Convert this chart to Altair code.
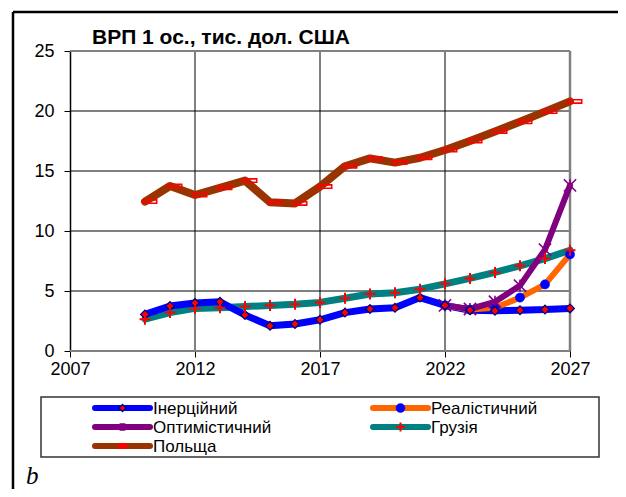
import altair as alt
import pandas as pd

# ---------------- data ----------------
years = list(range(2010, 2028))
inertial = [3.05, 3.75, 4.0, 4.1, 3.0, 2.1, 2.25, 2.6, 3.2, 3.5, 3.6, 4.45, 3.8, 3.4, 3.35, 3.4, 3.45, 3.55]
georgia = [2.65, 3.2, 3.55, 3.6, 3.7, 3.8, 3.9, 4.05, 4.4, 4.75, 4.85, 5.15, 5.6, 6.05, 6.55, 7.1, 7.7, 8.4]
poland = [12.45, 13.75, 13.0, 13.6, 14.2, 12.4, 12.3, 13.7, 15.4, 16.05, 15.7, 16.1, 16.75, 17.5, 18.3, 19.1, 19.95, 20.8]
scen_years = [2022, 2023, 2024, 2025, 2026, 2027]
realistic = [3.8, 3.45, 3.6, 4.45, 5.55, 8.05]
optimistic = [3.8, 3.5, 4.1, 5.45, 8.45, 13.8]

labels = ["Інерційний", "Реалістичний", "Оптимістичний", "Грузія", "Польща"]
title_text = "ВРП 1 ос., тис. дол. США"
panel_letter = "b"
x_ticks = [2007, 2012, 2017, 2022, 2027]
y_ticks = [0, 5, 10, 15, 20, 25]
x_grid = [2012, 2017, 2022]
y_grid = [5, 10, 15, 20]
x_dom = [2007, 2027]
y_dom = [0, 25]

# ---------------- layout ----------------
W, H = 610, 481
PX0, PX1 = 62, 562
PY0, PY1 = 343, 43
FONT = "Liberation Sans"

xs = alt.Scale(domain=x_dom, range=[PX0, PX1], nice=False, zero=False)
ys = alt.Scale(domain=y_dom, range=[PY0, PY1], nice=False, zero=False)

xaxis = alt.Axis(values=x_ticks, format="d", title=None, grid=False, offset=PY0 - H,
                 tickSize=6, tickColor="black", domainColor="black", domainWidth=1,
                 labelFont=FONT, labelFontSize=18, labelColor="black", labelPadding=3,
                 labelFlush=False, labelOverlap=False)
yaxis = alt.Axis(values=y_ticks, title=None, grid=False, offset=-PX0,
                 tickSize=6, tickColor="black", domainColor="black", domainWidth=1.5,
                 labelFont=FONT, labelFontSize=18, labelColor="black", labelPadding=10,
                 labelOverlap=False)


def X(f):
    return alt.X(f, type="quantitative", scale=xs, axis=xaxis)


def Y(f):
    return alt.Y(f, type="quantitative", scale=ys, axis=yaxis)


one = pd.DataFrame({"a": [0]})
layers = []

# gridlines
vg = pd.DataFrame({"x": x_grid, "y0": y_dom[0], "y1": y_dom[1]})
layers.append(alt.Chart(vg).mark_rule(color="black", strokeWidth=1).encode(
    x=X("x"), y=Y("y0"), y2="y1"))
hg = pd.DataFrame({"y": y_grid, "x0": x_dom[0], "x1": x_dom[1]})
layers.append(alt.Chart(hg).mark_rule(color="black", strokeWidth=1).encode(
    y=Y("y"), x=X("x0"), x2="x1"))
# plot-area border (top, right, bottom) in gray
tb = pd.DataFrame({"y": [y_dom[1], y_dom[0]], "x0": x_dom[0], "x1": x_dom[1]})
layers.append(alt.Chart(tb).mark_rule(color="#808080", strokeWidth=2).encode(
    y=Y("y"), x=X("x0"), x2="x1"))
rb = pd.DataFrame({"x": [x_dom[1]], "y0": y_dom[0], "y1": y_dom[1]})
layers.append(alt.Chart(rb).mark_rule(color="#808080", strokeWidth=2.5).encode(
    x=X("x"), y=Y("y0"), y2="y1"))

# series lines
def sdf(xv, yv):
    return pd.DataFrame({"year": xv, "v": yv})


line_specs = [
    (years, georgia, "#008080", 7),
    (years, poland, "#993300", 8),
    (years, inertial, "#0000FF", 7),
    (scen_years, realistic, "#FF6600", 6),
    (scen_years, optimistic, "#800080", 6),
]
for xv, yv, col, sw in line_specs:
    layers.append(alt.Chart(sdf(xv, yv)).mark_line(
        color=col, strokeWidth=sw, strokeCap="round", strokeJoin="round").encode(
        x=X("year"), y=Y("v")))

STAR = "M-1,-1L1,1M-1,1L1,-1M0,-1L0,1"
PLUS = "M-1,0L1,0M0,-1L0,1"
RECT = "M-1,-0.25L1,-0.25L1,0.25L-1,0.25Z"

mk_real = dict(shape="circle", filled=True, fill="#0000FF", stroke="#0000FF", strokeWidth=0.5, opacity=1)
mk_opt = dict(shape=STAR, filled=False, stroke="#800080", strokeWidth=1.6, opacity=1)
mk_in = dict(shape="diamond", filled=True, fill="#FF0000", stroke="#000080", strokeWidth=1.3, opacity=1)
mk_geo = dict(shape=PLUS, filled=False, stroke="#FF0000", strokeWidth=2, opacity=1)
mk_pol = dict(shape=RECT, filled=False, stroke="#FF0000", strokeWidth=1.6, opacity=1)

marker_specs = [
    (scen_years, realistic, mk_real, 85, 0),
    (scen_years, optimistic, mk_opt, 150, 0),
    (years, inertial, mk_in, 75, 0),
    (years, georgia, mk_geo, 120, 0),
    (years, poland, mk_pol, 180, 5),
]
for xv, yv, mk, sz, xo in marker_specs:
    layers.append(alt.Chart(sdf(xv, yv)).mark_point(size=sz, xOffset=xo, **mk).encode(
        x=X("year"), y=Y("v")))

# title
layers.append(alt.Chart(one).mark_text(
    text=title_text, font=FONT, fontSize=21, fontWeight="bold", align="left",
    baseline="alphabetic", color="black").encode(x=alt.value(84), y=alt.value(36)))

# outer frame (left and top)
layers.append(alt.Chart(one).mark_rule(color="black", strokeWidth=2.5).encode(
    x=alt.value(5), y=alt.value(4), y2=alt.value(H)))
layers.append(alt.Chart(one).mark_rule(color="black", strokeWidth=2.5).encode(
    x=alt.value(5), x2=alt.value(W), y=alt.value(4)))

# legend box
layers.append(alt.Chart(one).mark_rect(fill="white", stroke="#333333", strokeWidth=1.5).encode(
    x=alt.value(33), x2=alt.value(591), y=alt.value(389), y2=alt.value(449)))

leg_cols = [87, 365]
leg_rows = [400, 419, 438]
LEN = 55
leg_items = [
    (labels[0], 0, 0, "#0000FF", mk_in, 50),
    (labels[1], 1, 0, "#FF6600", mk_real, 80),
    (labels[2], 0, 1, "#800080", dict(mk_opt, shape="M-0.5,-1L-0.5,1M0.5,-1L0.5,1M-1,0L1,0M0,-1L0,1", strokeWidth=2), 60),
    (labels[3], 1, 1, "#008080", mk_geo, 80),
    (labels[4], 0, 2, "#993300", dict(mk_pol, filled=True, fill="#FF0000", shape="M-1,-0.5L1,-0.5L1,0.5L-1,0.5Z"), 60),
]
for lab, c, r, col, mk, sz in leg_items:
    x0 = leg_cols[c]
    y0 = leg_rows[r]
    layers.append(alt.Chart(one).mark_rule(color=col, strokeWidth=6, strokeCap="round").encode(
        x=alt.value(x0), x2=alt.value(x0 + LEN), y=alt.value(y0)))
    layers.append(alt.Chart(one).mark_point(size=sz, **mk).encode(
        x=alt.value(x0 + LEN / 2), y=alt.value(y0)))
    layers.append(alt.Chart(one).mark_text(
        text=lab, font=FONT, fontSize=17, align="left", baseline="middle", color="black").encode(
        x=alt.value(x0 + LEN + 3), y=alt.value(y0 + 1)))

# panel letter
layers.append(alt.Chart(one).mark_text(
    text=panel_letter, font="Liberation Serif", fontSize=25, fontStyle="italic", align="left",
    baseline="alphabetic", color="black").encode(x=alt.value(18), y=alt.value(476)))

chart = alt.layer(*layers).properties(
    width=W, height=H, autosize=alt.AutoSizeParams(type="none"), padding=0,
    background="white"
).configure_view(stroke=None)

chart.save("out.html", embed_options={"renderer": "svg", "actions": False})
